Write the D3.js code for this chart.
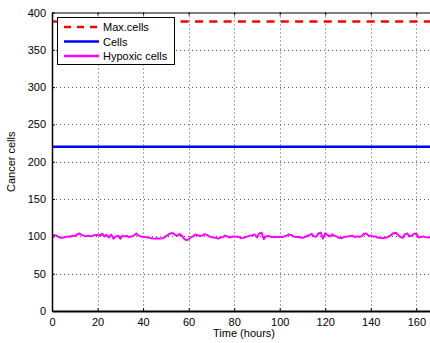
<!DOCTYPE html>
<html><head><meta charset="utf-8">
<script src="https://cdn.jsdelivr.net/npm/d3@7"></script>
<style>body{margin:0;background:#fff;}svg{display:block;font-family:"Liberation Sans",Arial,sans-serif;}</style>
</head><body>
<script>
const xTicks = [0,20,40,60,80,100,120,140,160];
const yTicks = [0,50,100,150,200,250,300,350,400];
const maxCells = 388;
const cells = 220;
const hours = d3.range(0,168);
const hypoxic = [100,102,101,99,98,98.5,99,100,99.5,101,100.5,102.5,104,102,101,100,101,100,101,102,
102,101,103.5,100,102,98.5,102.5,97,100,101,97,101,100,100.5,99,100,101,104,101,100,
99,99,98.5,98,97,97,97.5,97,97,98,100,102,104,104.5,102,101,103,101,97,95,
96,99,100,102.5,101.5,100.5,101,103,102,100,99,98.5,98,97,98.5,99,101,100,98.5,99.5,
100,99.5,99.5,97.5,98,99,100,101,101.5,102.5,98.5,104,105,96.5,100,100.5,99.5,99,99.5,99,
99.5,99,100,101,102.5,102,100,99,99.5,98.5,98,99,100.5,101.5,103.5,100,99.5,104,105,97,
104,102,100,102.5,101,100,98,97.5,99,99.5,100,100.5,101,99,100,99.5,100,103.5,104,101,
101,100,100,98.5,98,97.5,98,98.5,100,102,104.5,105,102,99,98,103,104,100,101,103.5,
104,98.5,99,100,99,98.5,99,99];
const legendLabels = ["Max.cells","Cells","Hypoxic cells"];

const W=430,H=343;
const svg=d3.select("body").append("svg").attr("width",W).attr("height",H);
const x=d3.scaleLinear().domain([0,168]).range([52,52+168*2.277]);
const y=d3.scaleLinear().domain([0,400]).range([311,12.5]);
const x0=x.range()[0], x1=x.range()[1], y0=y.range()[0], y1=y.range()[1];

// grid
const grid=svg.append("g").attr("stroke","#555").attr("stroke-width",1).attr("stroke-dasharray","1,3");
grid.selectAll(".gx").data(xTicks.filter(d=>d>0)).join("line")
 .attr("x1",d=>Math.round(x(d))+0.5).attr("x2",d=>Math.round(x(d))+0.5).attr("y1",y1).attr("y2",y0);
grid.selectAll(".gy").data(yTicks.filter(d=>d>0&&d<400)).join("line")
 .attr("y1",d=>Math.round(y(d))+0.5).attr("y2",d=>Math.round(y(d))+0.5).attr("x1",x0).attr("x2",x1);

const clip=svg.append("clipPath").attr("id","c").append("rect").attr("x",x0).attr("y",y1).attr("width",x1-x0).attr("height",y0-y1);
const plot=svg.append("g").attr("clip-path","url(#c)");

plot.append("line").attr("x1",x0).attr("x2",x1).attr("y1",y(maxCells)).attr("y2",y(maxCells))
 .attr("stroke","#ff0000").attr("stroke-width",2.5).attr("stroke-dasharray","8,6.3");
plot.append("line").attr("x1",x0).attr("x2",x1).attr("y1",y(cells)).attr("y2",y(cells))
 .attr("stroke","#0000ff").attr("stroke-width",2.5);
plot.append("path").datum(hypoxic).attr("fill","none").attr("stroke","#ff00ff").attr("stroke-width",2)
 .attr("stroke-linejoin","round")
 .attr("d",d3.line().x((d,i)=>x(hours[i])).y(d=>y(d)));

// axes
const xAxis=d3.axisBottom(x).tickValues(xTicks).tickSizeInner(-3).tickSizeOuter(0).tickPadding(7);
const gx=svg.append("g").attr("transform",`translate(0,${y0})`).call(xAxis);
gx.select(".domain").attr("stroke","#000").attr("stroke-width",2);
gx.selectAll("text").attr("font-size",11).attr("fill","#000").attr("font-family","Liberation Sans, Arial, sans-serif");
const xTop=d3.axisTop(x).tickValues(xTicks).tickSizeInner(-3).tickSizeOuter(0).tickFormat("");
const gxt=svg.append("g").attr("transform",`translate(0,${y1})`).call(xTop);
gxt.select(".domain").attr("stroke","#000").attr("stroke-width",1.2);

const yAxis=d3.axisLeft(y).tickValues(yTicks).tickSizeInner(-3).tickSizeOuter(0).tickPadding(6);
const gy=svg.append("g").attr("transform",`translate(${x0},0)`).call(yAxis);
gy.select(".domain").attr("stroke","#000").attr("stroke-width",1.5);
gy.selectAll("text").attr("font-size",11).attr("fill","#000").attr("font-family","Liberation Sans, Arial, sans-serif");

svg.append("text").attr("x",244).attr("y",337).attr("text-anchor","middle").attr("font-size",11).text("Time (hours)");
svg.append("text").attr("transform",`translate(15,${(y0+y1)/2}) rotate(-90)`).attr("text-anchor","middle").attr("font-size",11).text("Cancer cells");

// legend
const lg=svg.append("g");
lg.append("rect").attr("x",57.5).attr("y",17.5).attr("width",117).attr("height",47).attr("fill","#fff").attr("stroke","#000").attr("stroke-width",1);
const colors=["#ff0000","#0000ff","#ff00ff"];
const dashes=["7,6","",""];
const rowY=[27,41.5,56];
legendLabels.forEach((t,i)=>{
  lg.append("line").attr("x1",64).attr("x2",99).attr("y1",rowY[i]).attr("y2",rowY[i])
    .attr("stroke",colors[i]).attr("stroke-width",2.3).attr("stroke-dasharray",dashes[i]||null);
  lg.append("text").attr("x",103).attr("y",rowY[i]+4).attr("font-size",11).text(t);
});
</script>
</body></html>
